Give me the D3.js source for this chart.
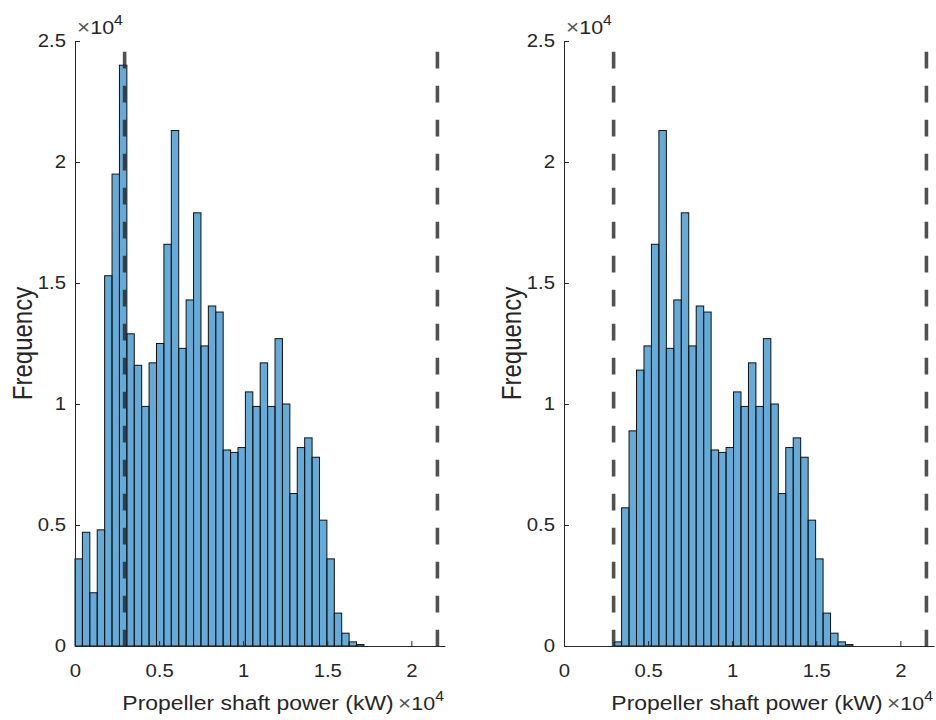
<!DOCTYPE html>
<html>
<head>
<meta charset="utf-8">
<script src="https://cdn.jsdelivr.net/npm/d3@7"></script>
<style>
    body { margin: 0; background: #fff; }
    svg text { font-family: "Liberation Sans", Arial, sans-serif; fill: #262626; }
</style>
</head>
<body>
<div class="chart"></div>
<script>
// bin counts, left to right
const leftCounts = [3600, 4700, 2200, 4800, 15300, 19500, 24000, 12900, 11600, 9900,
    11700, 12500, 16600, 21300, 12300, 14300, 17900, 12400, 14050, 13800,
    8100, 8000, 8200, 10500, 9900, 11700, 9900, 12700, 10000, 6300,
    8200, 8600, 7800, 5200, 3600, 1360, 530, 170, 60];
const rightCounts = [170, 5710, 8890, 11400, 12400, 16600, 21300, 12300, 14300, 17900,
    12400, 14050, 13800, 8100, 8000, 8200, 10500, 9900, 11700, 9900,
    12700, 10000, 6300, 8200, 8600, 7800, 5200, 3600, 1360, 530,
    170, 60];
// first and last bin edge of each histogram (kW)
const leftBinRange = [0, 17180];
const rightBinRange = [2980, 17180];
// dashed limit lines (kW)
const limitLines = [2950, 21550];
const xTicks = [0, 5000, 10000, 15000, 20000];
const yTicks = [0, 5000, 10000, 15000, 20000, 25000];
const xDomain = [0, 22000];
const yDomain = [0, 25000];

const w = 936;
const h = 720;
const stretch = 1.13;   // text in the picture is a bit wider than it is tall

const svg = d3.select('.chart')
    .append('svg')
    .attr('width', w)
    .attr('height', h);

function fmt(v) {
    return String(+(v / 1e4).toFixed(1));
}

function power(g, x, y, anchor) {
    // "x10^4" exponent label
    const t = g.append('text')
        .attr('transform', `translate(${x}, ${y}) scale(${stretch}, 1)`)
        .style('font-size', '19px')
        .style('text-anchor', anchor);
    t.append('tspan').text('\u00d7').style('font-size', '20px').style('fill', '#555');
    t.append('tspan').text('10');
    t.append('tspan').text('4').attr('dy', -9).style('font-size', '14px');
}

function drawHist(counts, binRange, left, right) {
    const top = 41, bottom = 646;

    const xScale = d3.scaleLinear().domain(xDomain).range([left, right]);
    const yScale = d3.scaleLinear().domain(yDomain).range([bottom, top]);

    const n = counts.length;
    const edges = d3.range(n + 1).map(i => binRange[0] + i * (binRange[1] - binRange[0]) / n);

    const g = svg.append('g');

    // bars
    g.selectAll('.bar')
        .data(counts)
        .enter().append('rect')
        .attr('class', 'bar')
        .attr('x', (d, i) => xScale(edges[i]))
        .attr('width', (d, i) => xScale(edges[i + 1]) - xScale(edges[i]))
        .attr('y', d => yScale(d))
        .attr('height', d => yScale(0) - yScale(d))
        .style('fill', '#0072bd')
        .style('fill-opacity', 0.6)
        .style('stroke', '#111')
        .style('stroke-width', 1);

    // dashed lines
    g.selectAll('.limit')
        .data(limitLines)
        .enter().append('line')
        .attr('class', 'limit')
        .attr('x1', d => xScale(d))
        .attr('x2', d => xScale(d))
        .attr('y1', yScale(yDomain[1]))
        .attr('y2', yScale(0))
        .style('stroke', '#262626')
        .style('stroke-opacity', 0.8)
        .style('stroke-width', 3.6)
        .style('stroke-dasharray', '16.7,17.3')
        .style('stroke-dashoffset', 23.3);

    // axes
    const xAxis = g.append('g')
        .attr('transform', `translate(0, ${bottom})`)
        .call(d3.axisBottom(xScale).tickValues(xTicks).tickFormat(fmt)
            .tickSize(-5).tickSizeOuter(0).tickPadding(18));

    const yAxis = g.append('g')
        .attr('transform', `translate(${left}, 0)`)
        .call(d3.axisLeft(yScale).tickValues(yTicks).tickFormat(fmt)
            .tickSize(-5).tickSizeOuter(0).tickPadding(8));

    [xAxis, yAxis].forEach(a => {
        a.selectAll('path, line').style('stroke', '#262626');
        a.selectAll('text')
            .style('font-size', '18px')
            .attr('transform', `scale(${stretch}, 1)`);
    });

    // labels
    g.append('text')
        .attr('transform', `translate(${(left + right) / 2 - 2}, 710) scale(${stretch}, 1)`)
        .style('font-size', '20.3px')
        .style('text-anchor', 'middle')
        .text('Propeller shaft power (kW)');

    g.append('text')
        .attr('transform', `translate(${left - 43}, ${(top + bottom) / 2}) rotate(-90) scale(1, ${stretch})`)
        .style('font-size', '24px')
        .style('text-anchor', 'middle')
        .text('Frequency');

    power(g, left + 2, 34, 'start');
    power(g, right - 1, 710, 'end');
}

drawHist(leftCounts, leftBinRange, 75, 445);
drawHist(rightCounts, rightBinRange, 564, 934);
</script>
</body>
</html>
